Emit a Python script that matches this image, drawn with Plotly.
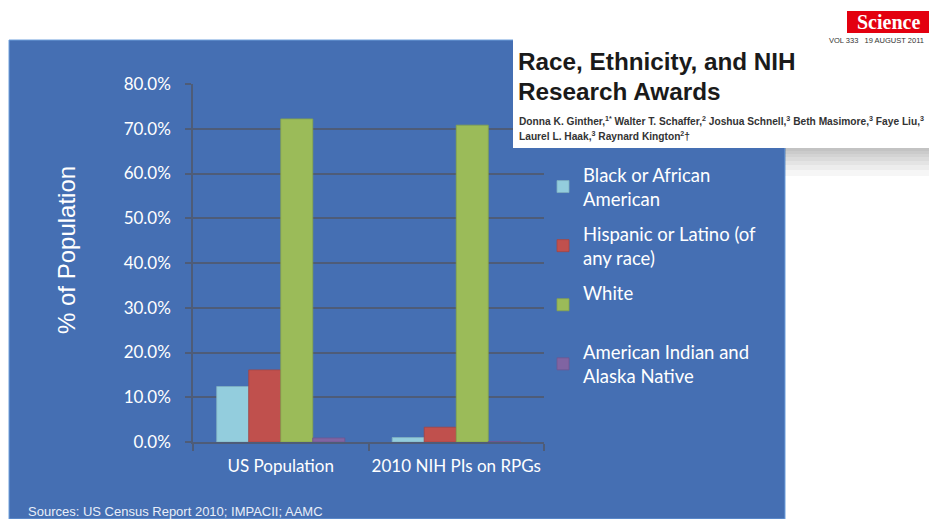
import plotly.graph_objects as go

categories = ["US Population", "2010 NIH PIs on RPGs"]
series_names = ["Black or African<br>American", "Hispanic or Latino (of<br>any race)", "White<br>&nbsp;", "American Indian and<br>Alaska Native"]
black = [12.4, 1.0]
hispanic = [16.1, 3.3]
white = [72.2, 70.8]
aian = [0.9, 0.1]
y_ticks = [0, 10, 20, 30, 40, 50, 60, 70, 80]
y_tick_labels = ["0.0%", "10.0%", "20.0%", "30.0%", "40.0%", "50.0%", "60.0%", "70.0%", "80.0%"]

colors = ["#93CDDD", "#C0504D", "#9BBB59", "#8064A2"]
edges = ["#7FB0C0", "#A64542", "#86A34B", "#6E5690"]

W, H = 929, 519
L, R, T, B = 193, 385, 84, 77
pw, ph = W - L - R, H - T - B

def px(x):
    return (x - L) / pw

def py(y):
    return (H - B - y) / ph

fig = go.Figure()
for name, vals, c, e in zip(series_names, [black, hispanic, white, aian], colors, edges):
    fig.add_trace(go.Bar(x=categories, y=vals, name=name, marker=dict(color=c, line=dict(color=e, width=0.8)),
                         legendgroup=name))

grid = "#4E5C78"
shadow = [dict(type="rect", xref="paper", yref="paper", x0=px(785), x1=px(929), y0=py(148 + h), y1=py(140),
               fillcolor="rgba(0,0,0,0.035)", line=dict(width=0)) for h in (28, 22, 17, 13, 9, 6, 3)]
fig.update_layout(
    width=W, height=H,
    margin=dict(l=L, r=R, t=T, b=B, autoexpand=False),
    paper_bgcolor="white",
    plot_bgcolor="rgba(0,0,0,0)",
    barmode="group", bargap=0.27, bargroupgap=0,
    font=dict(family="Lato, Open Sans, sans-serif", color="white"),
    showlegend=True,
    legend=dict(x=px(543), y=py(156), xanchor="left", yanchor="top",
                font=dict(size=18.5, color="white", family="Lato, Open Sans, sans-serif"),
                bgcolor="rgba(0,0,0,0)", tracegroupgap=8, itemwidth=30),
    xaxis=dict(showgrid=False, showline=True, linecolor=grid, linewidth=1.5,
               ticks="outside", tickson="boundaries", ticklen=7, tickcolor=grid, tickwidth=1.5,
               tickangle=0, automargin=False, ticklabelstandoff=8,
               tickfont=dict(size=17, color="white"), fixedrange=True),
    yaxis=dict(range=[0, 80], tickvals=y_ticks, ticktext=y_tick_labels, showgrid=True, gridcolor=grid, gridwidth=1.5,
               showline=True, linecolor=grid, linewidth=1.5, ticks="outside", ticklen=6, tickcolor=grid,
               tickwidth=1.5, tickfont=dict(size=17, color="white"), zeroline=False, fixedrange=True,
               automargin=False, ticklabelstandoff=11),
    shapes=[
        # blue panel
        dict(type="rect", xref="paper", yref="paper", x0=px(9), x1=px(785), y0=py(519), y1=py(40),
             fillcolor="#456FB3", line=dict(color="#6FA0DC", width=1), layer="below"),
    ] + shadow + [
        # inset box
        dict(type="rect", xref="paper", yref="paper", x0=px(513), x1=px(929), y0=py(148), y1=py(10),
             fillcolor="white", line=dict(width=0)),
        # Science logo box
        dict(type="rect", xref="paper", yref="paper", x0=px(847), x1=px(929), y0=py(33), y1=py(11),
             fillcolor="#E3000F", line=dict(width=0)),
    ],
    annotations=[
        dict(text="% of Population", xref="paper", yref="paper", x=px(66), y=py(250), xanchor="center",
             yanchor="middle", textangle=-90, showarrow=False,
             font=dict(size=24, family="Liberation Sans, Arial", color="white")),
        dict(text="Science", xref="paper", yref="paper", x=px(888), y=py(22), xanchor="center", yanchor="middle",
             showarrow=False, font=dict(family="Liberation Serif, DejaVu Serif", size=20, color="white", weight="bold")),
        dict(text="VOL 333   19 AUGUST 2011", xref="paper", yref="paper", x=px(926), y=py(40), xanchor="right",
             yanchor="middle", showarrow=False, font=dict(family="Liberation Sans, Arial", size=7.5, color="#333333")),
        dict(text="<b>Race, Ethnicity, and NIH</b>", xref="paper", yref="paper", x=px(516), y=py(61), xanchor="left",
             yanchor="middle", showarrow=False, font=dict(family="Liberation Sans, Arial", size=24.3, color="#1a1a1a")),
        dict(text="<b>Research Awards</b>", xref="paper", yref="paper", x=px(516), y=py(92), xanchor="left",
             yanchor="middle", showarrow=False, font=dict(family="Liberation Sans, Arial", size=24.3, color="#1a1a1a")),
        dict(text="<b>Donna K. Ginther,<sup>1*</sup> Walter T. Schaffer,<sup>2</sup> Joshua Schnell,<sup>3</sup> Beth Masimore,<sup>3</sup> Faye Liu,<sup>3</sup></b>",
             xref="paper", yref="paper", x=px(517), y=py(121), xanchor="left", yanchor="middle", showarrow=False,
             font=dict(family="Liberation Sans Narrow, Liberation Sans, Arial", size=10.2, color="#333333")),
        dict(text="<b>Laurel L. Haak,<sup>3</sup> Raynard Kington<sup>2</sup>†</b>",
             xref="paper", yref="paper", x=px(517), y=py(136), xanchor="left", yanchor="middle", showarrow=False,
             font=dict(family="Liberation Sans Narrow, Liberation Sans, Arial", size=10.2, color="#333333")),
        dict(text="Sources: US Census Report 2010; IMPACII; AAMC", xref="paper", yref="paper", x=px(26), y=py(511),
             xanchor="left", yanchor="middle", showarrow=False,
             font=dict(family="Liberation Sans, Arial", size=13, color="#E8EEF8")),
    ],
)

fig.write_html("out.html", config={"displayModeBar": False},
               post_script="document.body.style.margin='0';document.body.style.overflow='hidden';")
